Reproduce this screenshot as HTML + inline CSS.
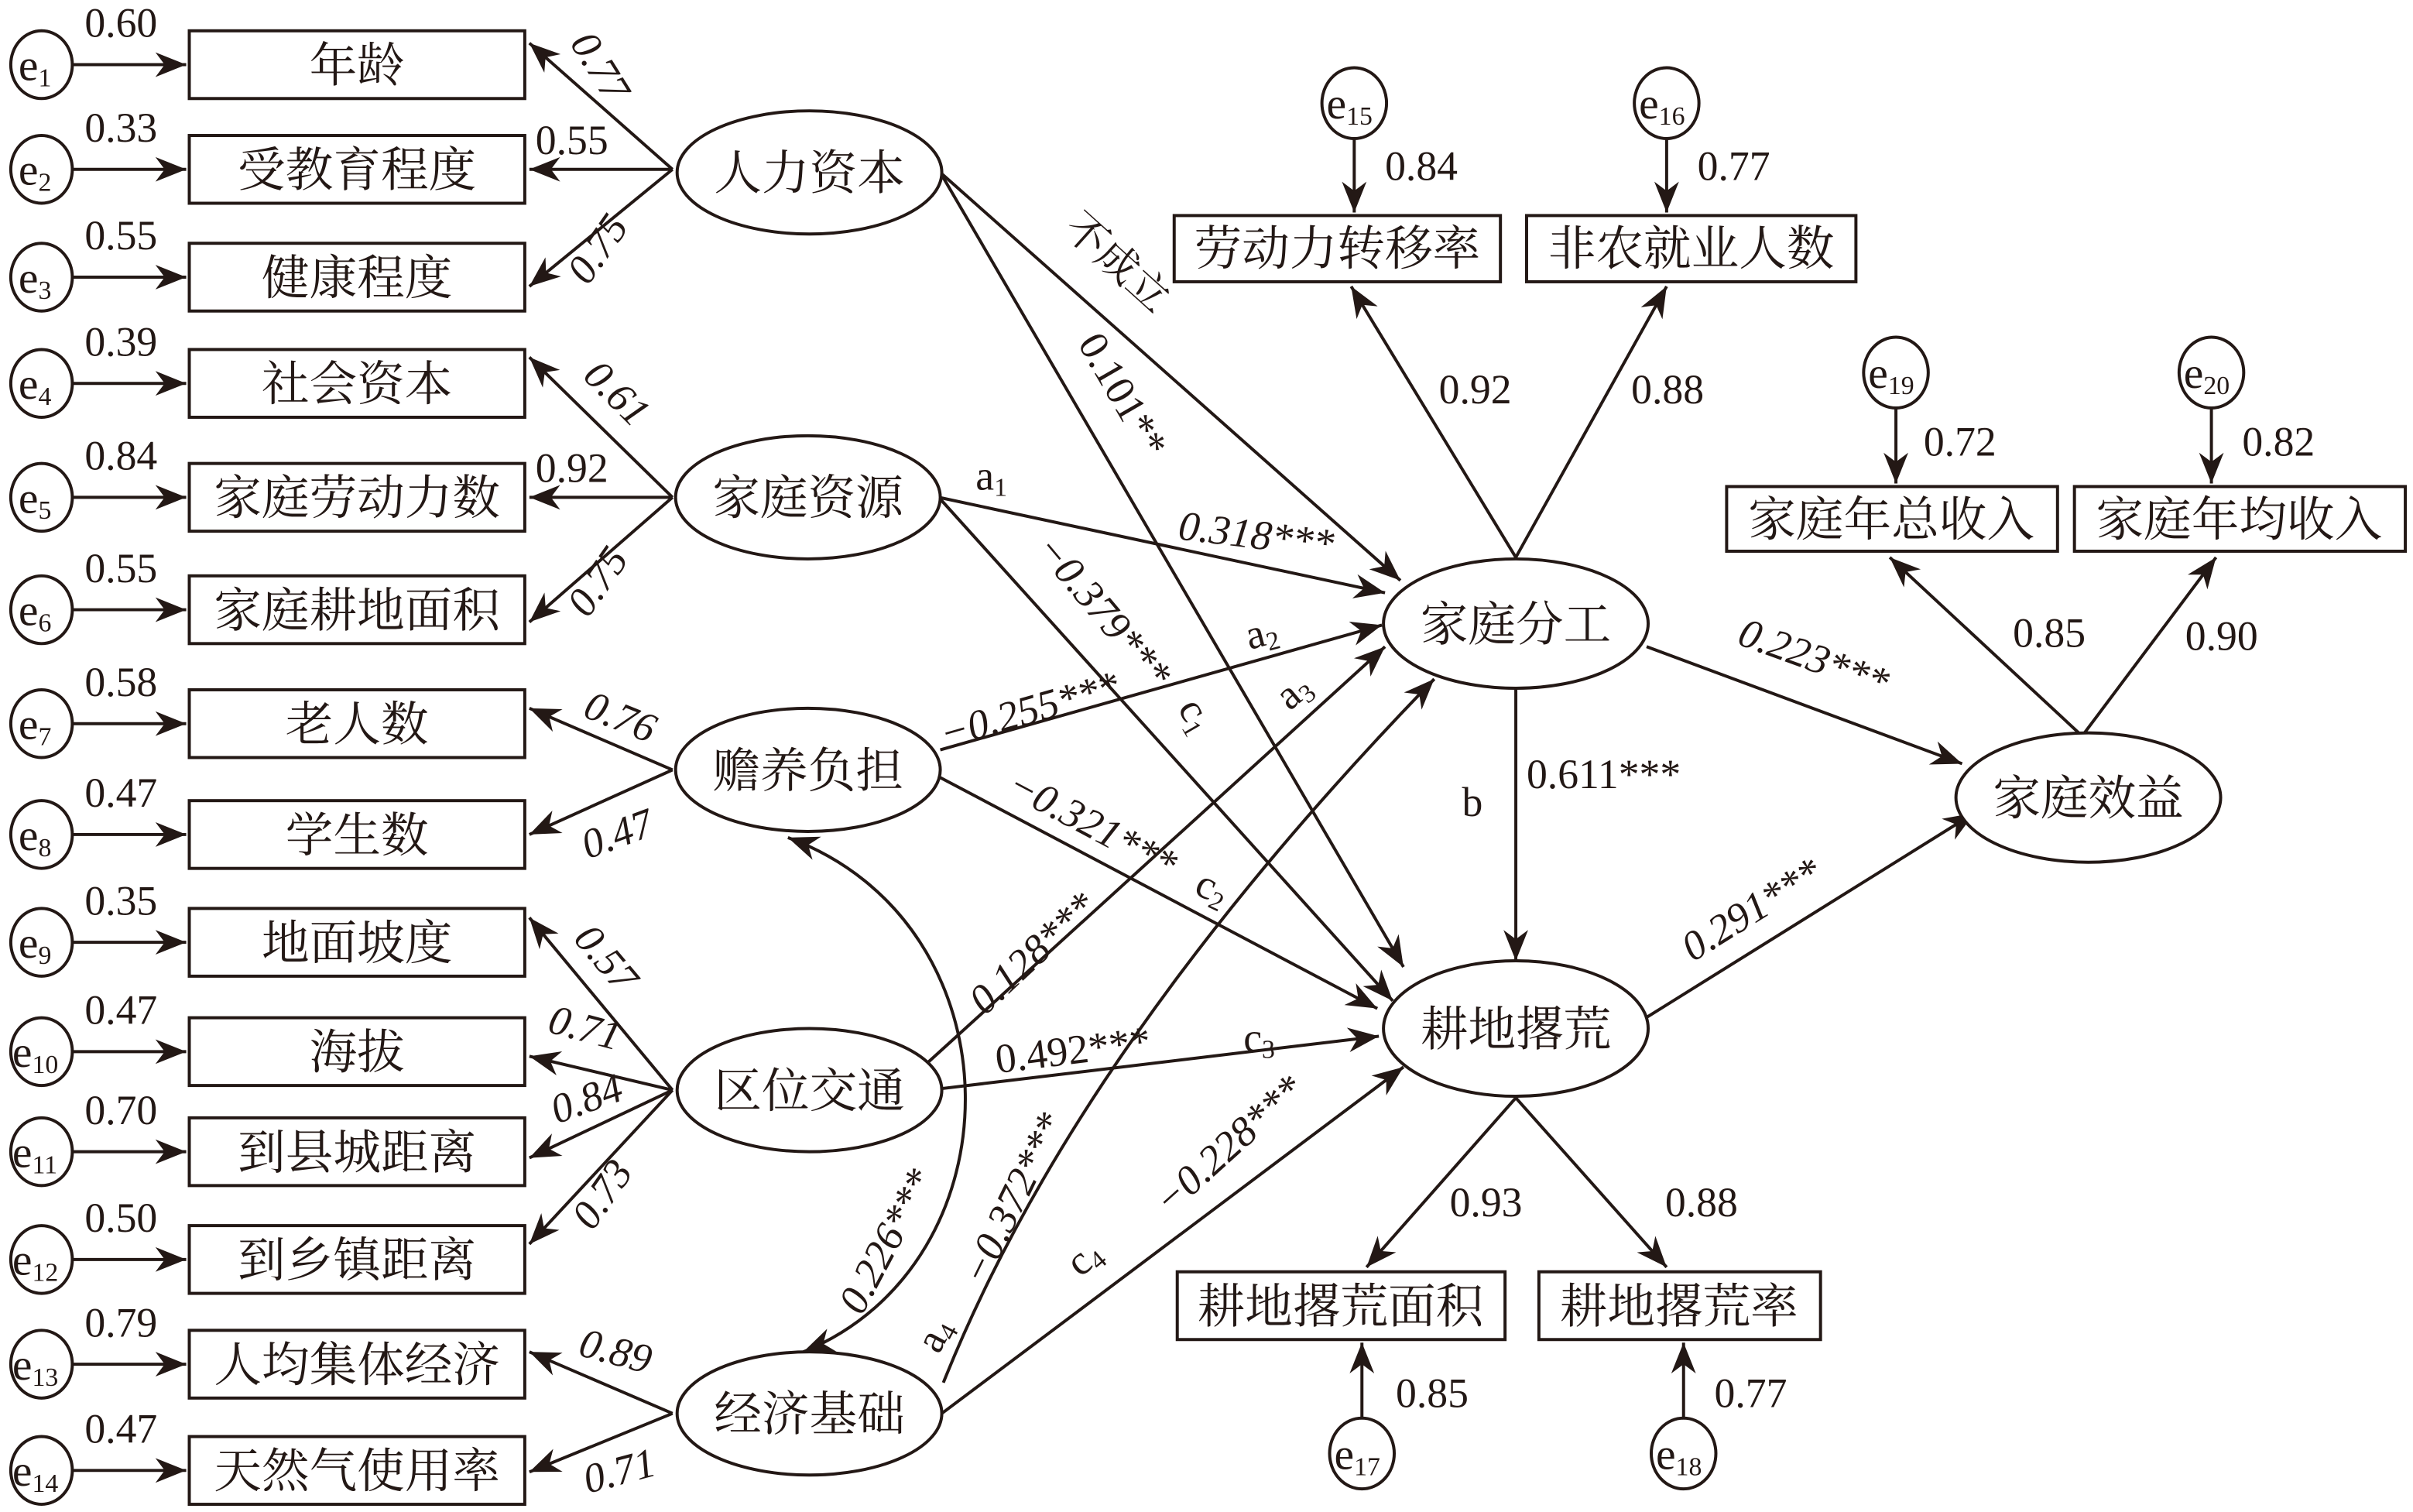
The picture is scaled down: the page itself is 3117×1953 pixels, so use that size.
<!DOCTYPE html>
<html><head><meta charset="utf-8"><style>
html,body{margin:0;padding:0;background:#fff;}
svg{display:block;}
text{font-family:"Liberation Serif","Noto Serif CJK SC",serif;fill:#231815;}
.cn{font-size:31px;font-family:"Noto Serif CJK SC","Liberation Serif",serif;}
.n{font-size:27px;}
.it{font-size:27px;font-style:italic;}
.e{font-size:29px;}
.s{font-size:17px;}
</style></head><body>
<svg width="3117" height="1953" viewBox="0 0 1568 982" preserveAspectRatio="none" xmlns="http://www.w3.org/2000/svg" font-family="Liberation Serif, Noto Serif CJK SC, serif">
<defs>
<marker id="a" markerUnits="userSpaceOnUse" markerWidth="24" markerHeight="20" refX="0" refY="0" viewBox="-22 -10 24 20" orient="auto">
<path d="M0,0 L-20,-8 L-14,0 L-20,8 Z" fill="#231815"/>
</marker>
<marker id="as" markerUnits="userSpaceOnUse" markerWidth="24" markerHeight="20" refX="0" refY="0" viewBox="-22 -10 24 20" orient="auto-start-reverse">
<path d="M0,0 L-20,-8 L-14,0 L-20,8 Z" fill="#231815"/>
</marker>
</defs>
<g stroke="#231815" stroke-width="2" fill="none">
<rect x="123" y="20" width="218" height="44"/>
<rect x="123" y="88" width="218" height="44"/>
<rect x="123" y="158" width="218" height="44"/>
<rect x="123" y="227" width="218" height="44"/>
<rect x="123" y="301" width="218" height="44"/>
<rect x="123" y="374" width="218" height="44"/>
<rect x="123" y="448" width="218" height="44"/>
<rect x="123" y="520" width="218" height="44"/>
<rect x="123" y="590" width="218" height="44"/>
<rect x="123" y="661" width="218" height="44"/>
<rect x="123" y="726" width="218" height="44"/>
<rect x="123" y="796" width="218" height="44"/>
<rect x="123" y="864" width="218" height="44"/>
<rect x="123" y="933" width="218" height="44"/>
<ellipse cx="27" cy="42" rx="20" ry="22"/><ellipse cx="27" cy="110" rx="20" ry="22"/>
<ellipse cx="27" cy="180" rx="20" ry="22"/><ellipse cx="27" cy="249" rx="20" ry="22"/>
<ellipse cx="27" cy="323" rx="20" ry="22"/><ellipse cx="27" cy="396" rx="20" ry="22"/>
<ellipse cx="27" cy="470" rx="20" ry="22"/><ellipse cx="27" cy="542" rx="20" ry="22"/>
<ellipse cx="27" cy="612" rx="20" ry="22"/><ellipse cx="27" cy="683" rx="20" ry="22"/>
<ellipse cx="27" cy="748" rx="20" ry="22"/><ellipse cx="27" cy="818" rx="20" ry="22"/>
<ellipse cx="27" cy="886" rx="20" ry="22"/><ellipse cx="27" cy="955" rx="20" ry="22"/>
<g marker-end="url(#a)">
<line x1="47" y1="42" x2="121" y2="42"/><line x1="47" y1="110" x2="121" y2="110"/>
<line x1="47" y1="180" x2="121" y2="180"/><line x1="47" y1="249" x2="121" y2="249"/>
<line x1="47" y1="323" x2="121" y2="323"/><line x1="47" y1="396" x2="121" y2="396"/>
<line x1="47" y1="470" x2="121" y2="470"/><line x1="47" y1="542" x2="121" y2="542"/>
<line x1="47" y1="612" x2="121" y2="612"/><line x1="47" y1="683" x2="121" y2="683"/>
<line x1="47" y1="748" x2="121" y2="748"/><line x1="47" y1="818" x2="121" y2="818"/>
<line x1="47" y1="886" x2="121" y2="886"/><line x1="47" y1="955" x2="121" y2="955"/>
<line x1="437" y1="110" x2="344" y2="28"/><line x1="437" y1="110" x2="344" y2="110"/><line x1="437" y1="110" x2="344" y2="186"/>
<line x1="437" y1="323" x2="344" y2="232"/><line x1="437" y1="323" x2="344" y2="323"/><line x1="437" y1="323" x2="344" y2="404"/>
<line x1="437" y1="500" x2="344" y2="460"/><line x1="437" y1="500" x2="344" y2="542"/>
<line x1="437" y1="708" x2="344" y2="596"/><line x1="437" y1="708" x2="344" y2="686"/><line x1="437" y1="708" x2="344" y2="752"/><line x1="437" y1="708" x2="344" y2="808"/>
<line x1="437" y1="918" x2="344" y2="878"/><line x1="437" y1="918" x2="344" y2="956"/>
<line x1="611" y1="112" x2="912" y2="628"/>
<line x1="611" y1="112" x2="910" y2="377"/>
<line x1="610" y1="323" x2="900" y2="385"/>
<line x1="610" y1="323" x2="905" y2="650"/>
<line x1="611" y1="487" x2="898" y2="406"/>
<line x1="611" y1="505" x2="895" y2="655"/>
<line x1="603" y1="690" x2="900" y2="420"/>
<line x1="612" y1="707" x2="896" y2="673"/>
<path d="M613,898 Q700,680 932,441"/>
<line x1="612" y1="918" x2="912" y2="693"/>
<line x1="985" y1="448" x2="985" y2="624"/>
<line x1="1070" y1="420" x2="1275" y2="496"/>
<line x1="1068" y1="662" x2="1283" y2="528"/>
<line x1="985" y1="362" x2="878" y2="186"/>
<line x1="985" y1="362" x2="1083" y2="186"/>
<line x1="1353" y1="478" x2="1228" y2="362"/>
<line x1="1353" y1="478" x2="1440" y2="362"/>
<line x1="985" y1="713" x2="888" y2="823"/>
<line x1="985" y1="713" x2="1083" y2="823"/>
<line x1="880" y1="89" x2="880" y2="138"/>
<line x1="1083" y1="89" x2="1083" y2="138"/>
<line x1="1232" y1="264" x2="1232" y2="314"/>
<line x1="1437" y1="264" x2="1437" y2="314"/>
<line x1="885" y1="922" x2="885" y2="872"/>
<line x1="1094" y1="922" x2="1094" y2="872"/>
</g>
<ellipse cx="526" cy="112" rx="86" ry="40" fill="#fff"/>
<ellipse cx="525" cy="323" rx="86" ry="40" fill="#fff"/>
<ellipse cx="525" cy="500" rx="86" ry="40" fill="#fff"/>
<ellipse cx="526" cy="708" rx="86" ry="40" fill="#fff"/>
<ellipse cx="526" cy="918" rx="86" ry="40" fill="#fff"/>
<ellipse cx="985" cy="405" rx="86" ry="42" fill="#fff"/>
<ellipse cx="985" cy="668" rx="86" ry="44" fill="#fff"/>
<ellipse cx="1357" cy="518" rx="86" ry="42" fill="#fff"/>
<path d="M512,544 C664,600 664,820 522,878" marker-start="url(#as)" marker-end="url(#a)"/>
<rect x="763" y="140" width="212" height="43"/>
<rect x="992" y="140" width="214" height="43"/>
<rect x="1122" y="316" width="215" height="42"/>
<rect x="1348" y="316" width="215" height="42"/>
<rect x="765" y="826" width="213" height="44"/>
<rect x="1000" y="826" width="183" height="44"/>
<ellipse cx="880" cy="67" rx="21" ry="23"/><ellipse cx="1083" cy="67" rx="21" ry="23"/>
<ellipse cx="1232" cy="242" rx="21" ry="23"/><ellipse cx="1437" cy="242" rx="21" ry="23"/>
<ellipse cx="885" cy="944" rx="21" ry="23"/><ellipse cx="1094" cy="944" rx="21" ry="23"/>
</g>
<g class="cn" text-anchor="middle">
<text x="232" y="53">年龄</text><text x="232" y="121">受教育程度</text><text x="232" y="191">健康程度</text>
<text x="232" y="260">社会资本</text><text x="232" y="334">家庭劳动力数</text><text x="232" y="407">家庭耕地面积</text>
<text x="232" y="481">老人数</text><text x="232" y="553">学生数</text><text x="232" y="623">地面坡度</text>
<text x="232" y="694">海拔</text><text x="232" y="759">到县城距离</text><text x="232" y="829">到乡镇距离</text>
<text x="232" y="897">人均集体经济</text><text x="232" y="966">天然气使用率</text>
<text x="526" y="123">人力资本</text><text x="525" y="334">家庭资源</text><text x="525" y="511">赡养负担</text>
<text x="526" y="719">区位交通</text><text x="526" y="929">经济基础</text>
<text x="985" y="416">家庭分工</text><text x="985" y="679">耕地撂荒</text><text x="1357" y="529">家庭效益</text>
<text x="869" y="172">劳动力转移率</text><text x="1099" y="172">非农就业人数</text>
<text x="1229" y="348">家庭年总收入</text><text x="1455" y="348">家庭年均收入</text>
<text x="871" y="859">耕地撂荒面积</text><text x="1091" y="859">耕地撂荒率</text>
</g>
<g class="e">
<text x="12" y="52">e<tspan class="s" dy="4">1</tspan></text>
<text x="12" y="120">e<tspan class="s" dy="4">2</tspan></text>
<text x="12" y="190">e<tspan class="s" dy="4">3</tspan></text>
<text x="12" y="259">e<tspan class="s" dy="4">4</tspan></text>
<text x="12" y="333">e<tspan class="s" dy="4">5</tspan></text>
<text x="12" y="406">e<tspan class="s" dy="4">6</tspan></text>
<text x="12" y="480">e<tspan class="s" dy="4">7</tspan></text>
<text x="12" y="552">e<tspan class="s" dy="4">8</tspan></text>
<text x="12" y="622">e<tspan class="s" dy="4">9</tspan></text>
<text x="8" y="693">e<tspan class="s" dy="4">10</tspan></text>
<text x="8" y="758">e<tspan class="s" dy="4">11</tspan></text>
<text x="8" y="828">e<tspan class="s" dy="4">12</tspan></text>
<text x="8" y="896">e<tspan class="s" dy="4">13</tspan></text>
<text x="8" y="965">e<tspan class="s" dy="4">14</tspan></text>
<text x="862" y="77">e<tspan class="s" dy="4">15</tspan></text>
<text x="1065" y="77">e<tspan class="s" dy="4">16</tspan></text>
<text x="1214" y="252">e<tspan class="s" dy="4">19</tspan></text>
<text x="1419" y="252">e<tspan class="s" dy="4">20</tspan></text>
<text x="867" y="954">e<tspan class="s" dy="4">17</tspan></text>
<text x="1076" y="954">e<tspan class="s" dy="4">18</tspan></text>
</g>
<g class="n">
<text x="55" y="24">0.60</text><text x="55" y="92">0.33</text><text x="55" y="162">0.55</text>
<text x="55" y="231">0.39</text><text x="55" y="305">0.84</text><text x="55" y="378">0.55</text>
<text x="55" y="452">0.58</text><text x="55" y="524">0.47</text><text x="55" y="594">0.35</text>
<text x="55" y="665">0.47</text><text x="55" y="730">0.70</text><text x="55" y="800">0.50</text>
<text x="55" y="868">0.79</text><text x="55" y="937">0.47</text>
<text x="348" y="100">0.55</text><text x="348" y="313">0.92</text>
<text x="900" y="117">0.84</text><text x="1103" y="117">0.77</text>
<text x="935" y="262">0.92</text><text x="1060" y="262">0.88</text>
<text x="1250" y="296">0.72</text><text x="1457" y="296">0.82</text>
<text x="1308" y="420">0.85</text><text x="1420" y="422">0.90</text>
<text x="942" y="790">0.93</text><text x="1082" y="790">0.88</text>
<text x="907" y="914">0.85</text><text x="1114" y="914">0.77</text>
<text x="992" y="512">0.611***</text>
<text x="950" y="530">b</text>
<text x="634" y="318">a<tspan class="s" dy="4">1</tspan></text>
<text x="808" y="683">c<tspan class="s" dy="4">3</tspan></text>
<text x="648" y="697" transform="rotate(-7 648 697)">0.492***</text>
</g>
<g class="it">
<text x="370" y="28" transform="rotate(58 370 28)">0.77</text>
<text x="382" y="186" transform="rotate(-55 382 186)">0.75</text>
<text x="378" y="245" transform="rotate(45 378 245)">0.61</text>
<text x="382" y="402" transform="rotate(-55 382 402)">0.75</text>
<text x="378" y="465" transform="rotate(22 378 465)">0.76</text>
<text x="382" y="558" transform="rotate(-20 382 558)">0.47</text>
<text x="372" y="610" transform="rotate(50 372 610)">0.57</text>
<text x="355" y="670" transform="rotate(15 355 670)">0.71</text>
<text x="362" y="730" transform="rotate(-20 362 730)">0.84</text>
<text x="385" y="800" transform="rotate(-55 385 800)">0.73</text>
<text x="375" y="880" transform="rotate(15 375 880)">0.89</text>
<text x="382" y="970" transform="rotate(-15 382 970)">0.71</text>
<text x="765" y="350" transform="rotate(7 765 350)">0.318***</text>
<text x="1128" y="418" transform="rotate(20 1128 418)">0.223***</text>
<text x="1100" y="625" transform="rotate(-32 1100 625)">0.291***</text>
<text x="700" y="223" transform="rotate(60 700 223)" style="font-style:normal">0.101**</text>
<text x="672" y="357" transform="rotate(50 672 357)">−0.379***</text>
<text x="614" y="486" transform="rotate(-16 614 486)">−0.255***</text>
<text x="653" y="515" transform="rotate(28 653 515)">−0.321***</text>
<text x="640" y="660" transform="rotate(-43 640 660)">0.128***</text>
<text x="640" y="836" transform="rotate(-64 640 836)">−0.372***</text>
<text x="760" y="790" transform="rotate(-42 760 790)">−0.228***</text>
<text x="560" y="855" transform="rotate(-62 560 855)">0.226***</text>
</g>
<g class="n">
<text x="812" y="422" transform="rotate(-15 812 422)">a<tspan class="s" dy="4">2</tspan></text>
<text x="838" y="462" transform="rotate(-40 838 462)">a<tspan class="s" dy="4">3</tspan></text>
<text x="765" y="460" transform="rotate(60 765 460)">c<tspan class="s" dy="4">1</tspan></text>
<text x="775" y="580" transform="rotate(25 775 580)">c<tspan class="s" dy="4">2</tspan></text>
<text x="610" y="880" transform="rotate(-62 610 880)">a<tspan class="s" dy="4">4</tspan></text>
<text x="702" y="830" transform="rotate(-40 702 830)">c<tspan class="s" dy="4">4</tspan></text>
</g>
<text class="cn" x="690" y="150" transform="rotate(42 690 150)" style="font-size:27px">不成立</text>
</svg>
</body></html>
